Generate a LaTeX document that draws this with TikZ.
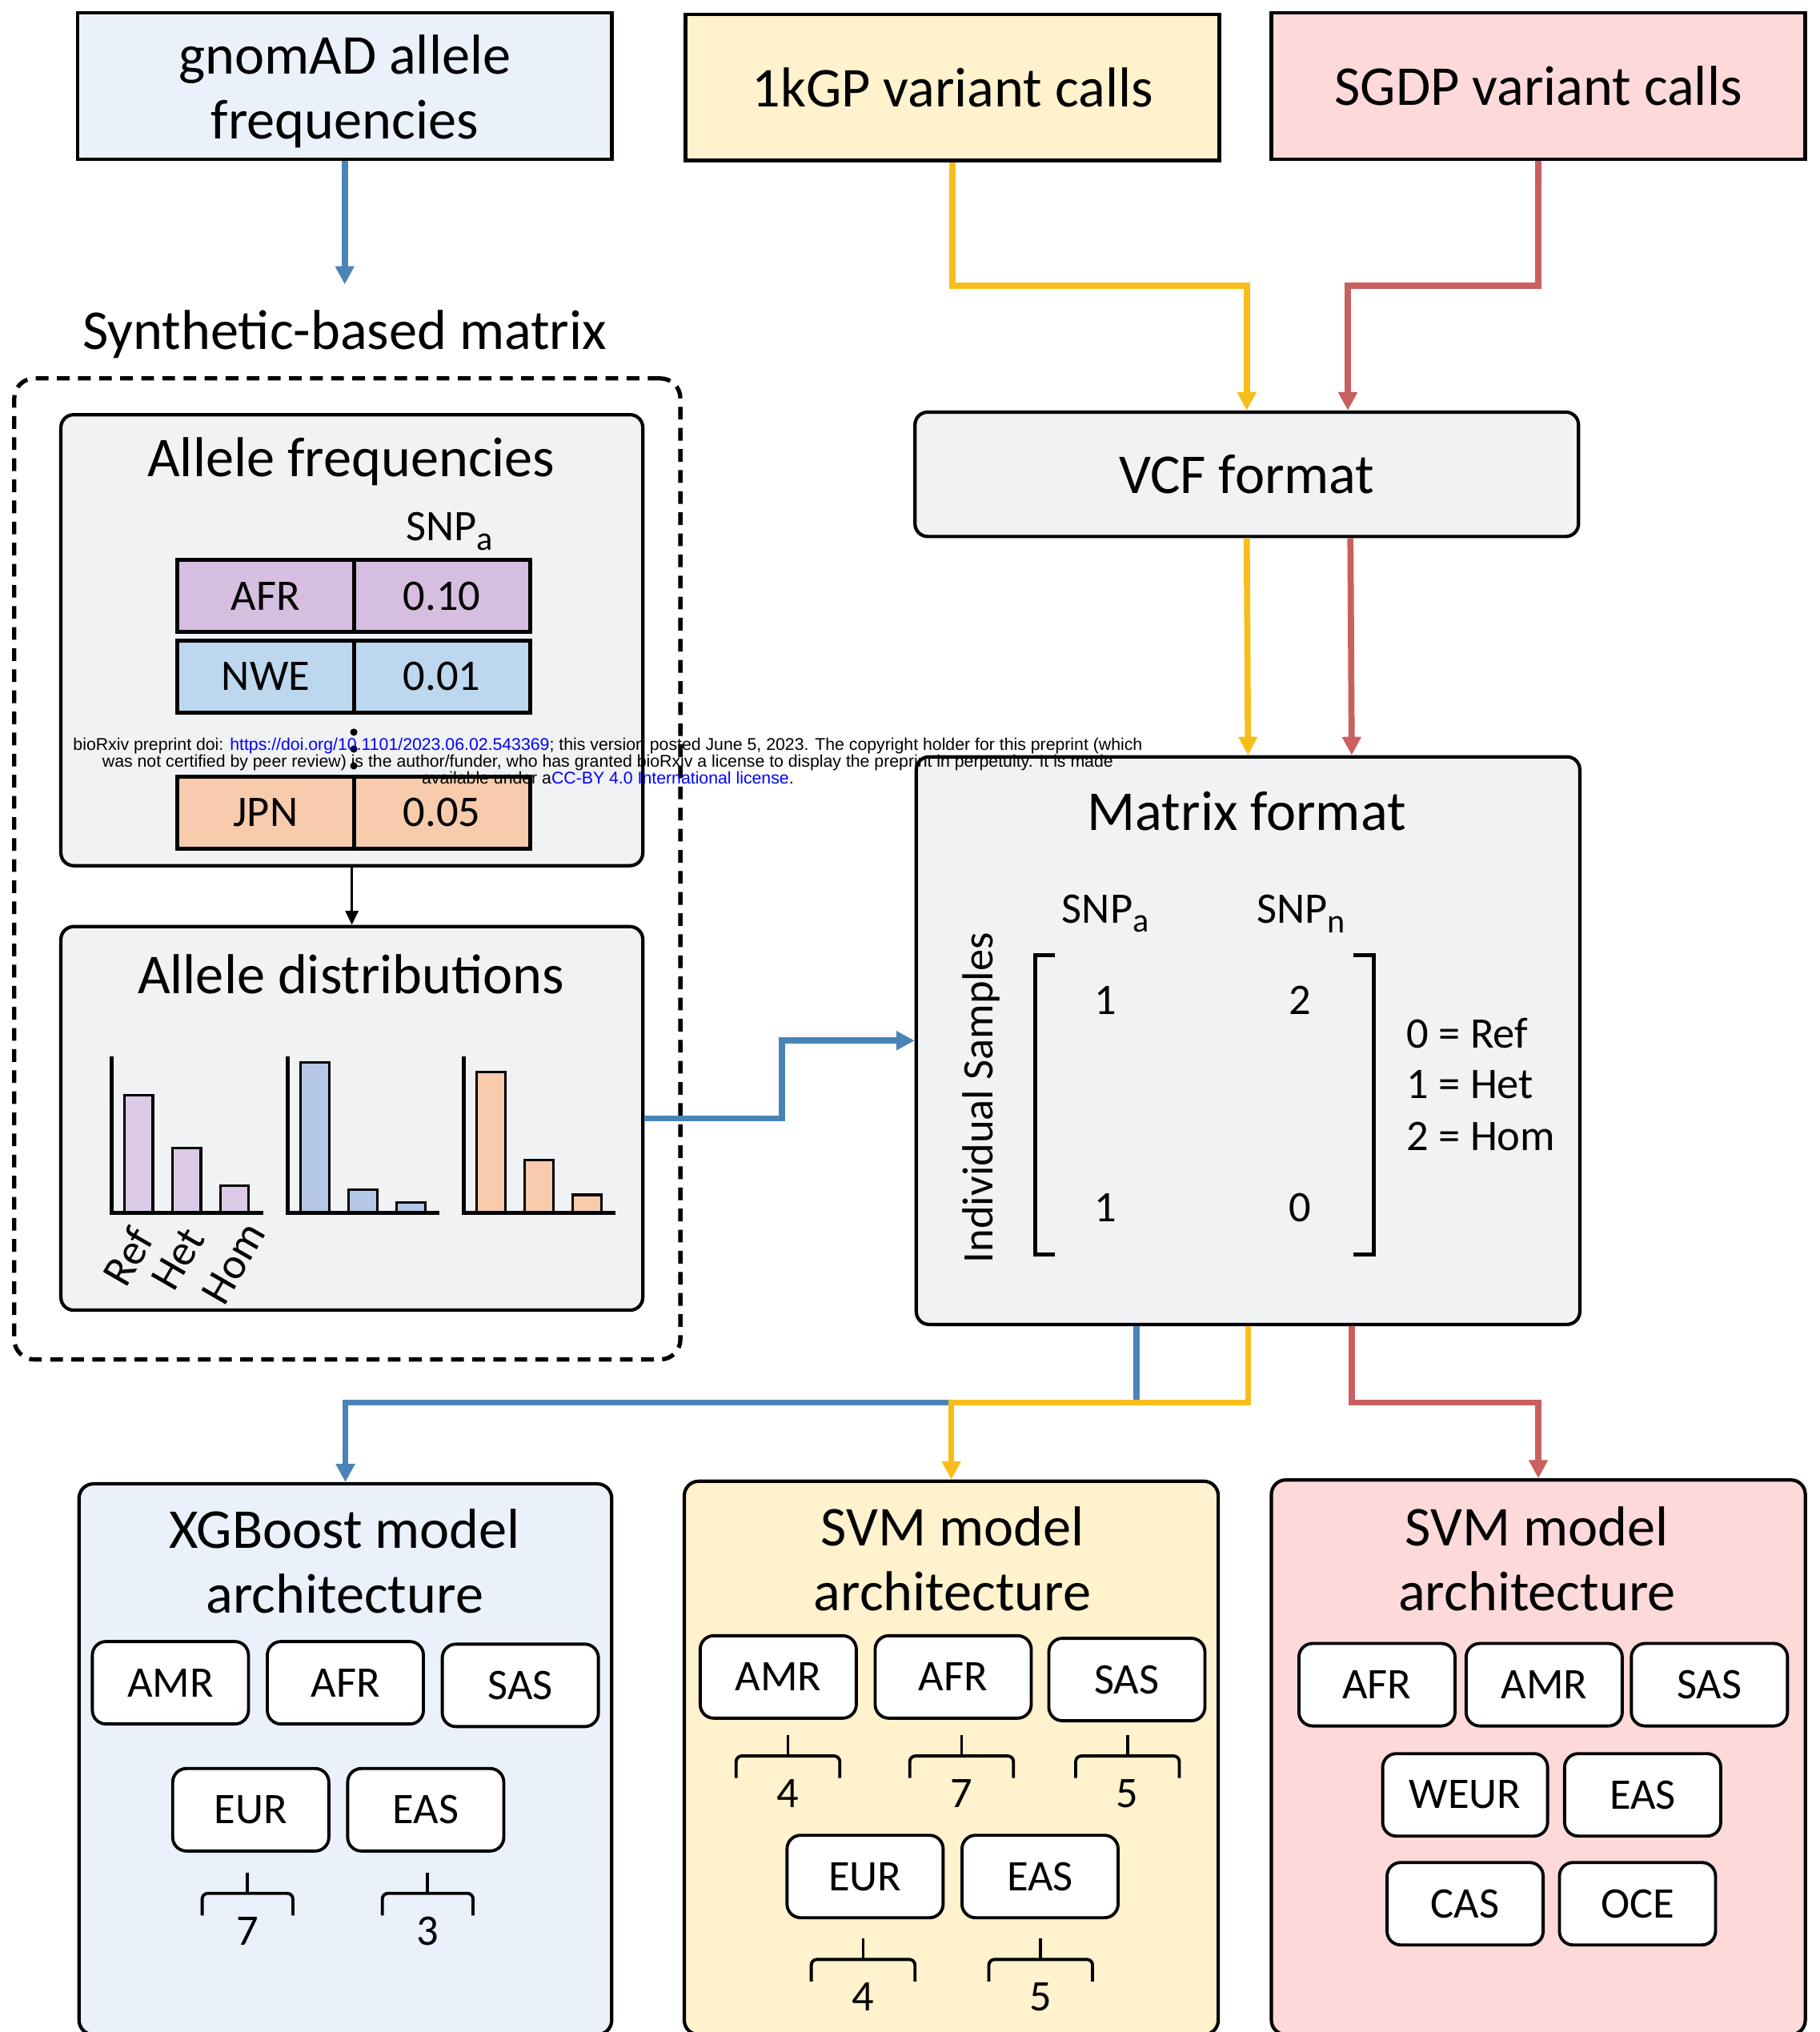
\documentclass[tikz,border=0pt]{standalone}
\usepackage{fontspec}
\setmainfont{Carlito}
\newfontfamily\wmfont{Liberation Sans}
\usetikzlibrary{arrows.meta, calc, fit}
\definecolor{paleblue}{HTML}{EAF1FB}
\definecolor{paleyellow}{HTML}{FFF2CC}
\definecolor{palepink}{HTML}{FDD9D9}
\definecolor{panelgray}{HTML}{F1F2F4}
\definecolor{lnblue}{HTML}{4A84B6}
\definecolor{lnyellow}{HTML}{F7BE1B}
\definecolor{lnred}{HTML}{C95F5F}
\definecolor{afrpurple}{HTML}{D5BEDF}
\definecolor{nweblue}{HTML}{BDD7EE}
\definecolor{jpnpeach}{HTML}{F7CBAC}
\definecolor{barpurple}{HTML}{DCCAE6}
\definecolor{barblue}{HTML}{B4C7E7}
\definecolor{barpeach}{HTML}{F8CBAD}
\definecolor{linkblue}{HTML}{0000FF}

\begin{document}
\begin{tikzpicture}[x=0.1619mm, y=-0.1619mm,
  title/.style={font=\fontsize{20}{23}\selectfont, align=center, inner sep=0pt},
  small/.style={font=\fontsize{15.5}{18}\selectfont, inner sep=0pt},
  srcbox/.style={draw=black, line width=1.3pt, inner sep=0pt},
  panel/.style={draw=black, line width=1.2pt, fill=panelgray, rounded corners=0.16cm, inner sep=0pt},
  modelbox/.style={draw=black, line width=1.2pt, rounded corners=0.18cm, inner sep=0pt},
  popbox/.style={draw=black, line width=1.1pt, fill=white, rounded corners=0.17cm,
    minimum width=1.95cm, minimum height=1.03cm, small},
  cell/.style={draw=black, line width=1.4pt, minimum width=2.2cm, minimum height=0.9cm, small},
  flow/.style={line width=2.2pt, -{Triangle[length=6.5pt, width=6.5pt]}},
  bar/.style={draw=black, line width=0.9pt},
  axis/.style={line width=1.5pt},
  brace/.style={line width=1.1pt, rounded corners=2pt}
]
\useasboundingbox (0,0) rectangle (1404,1568);

% Sources
\node[srcbox, fill=paleblue, fit={(60,10) (472,123)}] (gnomad) {};
\node[title] (gnomadt) at ($(gnomad.center)+(0,4)$) {gnomAD allele\\frequencies};
\node[srcbox, fill=paleyellow, fit={(529,11) (941,124)}] (kgp) {};
\node[title] (kgpt) at (kgp.center) {1kGP variant calls};
\node[srcbox, fill=palepink, fit={(981,10) (1393,123)}] (sgdp) {};
\node[title] (sgdpt) at (sgdp.center) {SGDP variant calls};

% Synthetic-based matrix
\node[title] (synth) at (266,258) {Synthetic-based matrix};
\draw[flow, lnblue, shorten >=9pt] (gnomad.south) -- (synth.north);
\node[draw, line width=1.5pt, dash pattern=on 4.5pt off 3pt, rounded corners=0.25cm,
  inner sep=0pt, fit={(11,292) (525,1049)}] (synframe) {};

% Allele frequencies
\node[panel, fit={(47,320) (496,668)}] (afreq) {};
\node[title] (afreqt) at (271,356) {Allele frequencies};
\node[small] (snpfreq) at (347,410) {SNP\raisebox{-0.45ex}{\fontsize{12}{12}\selectfont a}};
\node[cell, fill=afrpurple] (afr) at (205,460) {AFR};
\node[cell, fill=afrpurple] (afrv) at (341,460) {0.10};
\node[cell, fill=nweblue] (nwe) at (205,522) {NWE};
\node[cell, fill=nweblue] (nwev) at (341,522) {0.01};
\node[cell, fill=jpnpeach] (jpn) at (205,627) {JPN};
\node[cell, fill=jpnpeach] (jpnv) at (341,627) {0.05};
\foreach \dy in {565,578,591}
  \fill (273,\dy) circle (1.3pt);

% Allele distributions
\node[panel, fit={(47,715) (496,1011)}] (adist) {};
\node[title] (adistt) at (271,752) {Allele distributions};
\draw[line width=1pt, -{Triangle[length=5pt, width=4.5pt]}] (afreq.south) -- (adist.north);
\foreach \cx/\ha/\hb/\hc/\col in {86/845/886/915/barpurple, 222/820/918/928/barblue, 358/827/895/922/barpeach} {
  \draw[bar, fill=\col] (\cx+10,\ha) rectangle (\cx+32,936);
  \draw[bar, fill=\col] (\cx+47,\hb) rectangle (\cx+69,936);
  \draw[bar, fill=\col] (\cx+84,\hc) rectangle (\cx+106,936);
  \draw[axis] (\cx,815) -- (\cx,936) -- (\cx+117,936);
}
\node[small, rotate=60, anchor=east] (lref) at (110,950) {Ref};
\node[small, rotate=60, anchor=east] (lhet) at (150,950) {Het};
\node[small, rotate=60, anchor=east] (lhom) at (197,946) {Hom};

% VCF and matrix format
\node[panel, fit={(706,318) (1218,414)}] (vcf) {};
\node[title] (vcft) at (vcf.center) {VCF format};
\node[panel, fit={(707,584) (1219,1022)}] (mat) {};
\node[title] (matt) at (962,626) {Matrix format};
\node[small] (snpa) at (853,705) {SNP\raisebox{-0.45ex}{\fontsize{12}{12}\selectfont a}};
\node[small] (snpn) at (1004,705) {SNP\raisebox{-0.45ex}{\fontsize{12}{12}\selectfont n}};
\draw[line width=1.5pt] (814,737) -- (799,737) -- (799,968) -- (814,968);
\draw[line width=1.5pt] (1044,737) -- (1060,737) -- (1060,968) -- (1044,968);
\node[small] (m11) at (853,772) {1};
\node[small] (m12) at (1003,772) {2};
\node[small] (m21) at (853,932) {1};
\node[small] (m22) at (1003,932) {0};
\node[small, anchor=west] (lgref) at (1085,797) {0 = Ref};
\node[small, anchor=west] (lghet) at (1085,837) {1 = Het};
\node[small, anchor=west] (lghom) at (1085,877) {2 = Hom};
\node[small, rotate=90] (indiv) at (757,847) {Individual Samples};

% Flows into VCF / matrix
\draw[flow, lnyellow] (kgp.south) -- ++(0,95) -| (vcf.north);
\draw[flow, lnred] (sgdp.south) -- ++(0,96) -| ($(vcf.north)+(78,0)$);
\draw[flow, lnyellow] (vcf.south) -- (mat.north);
\draw[flow, lnred] ($(vcf.south)+(80,0)$) -- ($(mat.north)+(80,0)$);
\draw[flow, lnblue] (adist.east) -- ++(106,0) |- (mat.west);

% Model boxes
\node[modelbox, fill=paleblue, fit={(61,1145) (472,1570)}] (xgb) {};
\node[title] (xgbt) at (266,1205) {XGBoost model\\architecture};
\node[modelbox, fill=paleyellow, fit={(528,1143) (940,1570)}] (svmy) {};
\node[title] (svmyt) at (735,1203) {SVM model\\architecture};
\node[modelbox, fill=palepink, fit={(981,1142) (1393,1570)}] (svmr) {};
\node[title] (svmrt) at (1186,1203) {SVM model\\architecture};

% Flows out of matrix
\draw[flow, lnblue] ($(mat.south)+(-86,0)$) -- ++(0,59) -| (xgb.north);
\draw[flow, lnyellow] (mat.south) -- ++(0,59) -| (svmy.north);
\draw[flow, lnred] ($(mat.south)+(80,0)$) -- ++(0,59) -| (svmr.north);

% XGBoost populations
\node[popbox] (xamr) at (131.5,1298.5) {AMR};
\node[popbox] (xafr) at (266.5,1298.5) {AFR};
\node[popbox] (xsas) at (401.5,1300.5) {SAS};
\node[popbox] (xeur) at (193.5,1396.5) {EUR};
\node[popbox] (xeas) at (328.5,1396.5) {EAS};

% SVM (1kGP) populations
\node[popbox] (yamr) at (600.5,1294) {AMR};
\node[popbox] (yafr) at (735.5,1294) {AFR};
\node[popbox] (ysas) at (869.5,1296) {SAS};
\node[popbox] (yeur) at (667.5,1448) {EUR};
\node[popbox] (yeas) at (802.5,1448) {EAS};

% SVM (SGDP) populations
\node[popbox] (rafr) at (1062.5,1300) {AFR};
\node[popbox] (ramr) at (1191.5,1300) {AMR};
\node[popbox] (rsas) at (1319,1300) {SAS};
\node[popbox, minimum width=2.06cm] (rweur) at (1130.5,1385) {WEUR};
\node[popbox] (reas) at (1267.5,1385) {EAS};
\node[popbox] (rcas) at (1130.5,1469) {CAS};
\node[popbox] (roce) at (1263.5,1469) {OCE};

% Braces with counts
\foreach \bx/\by/\bw/\bn in {191/1445/35/7, 330/1445/35/3, 608/1339/40/4, 742/1339/40/7,
    870/1339/40/5, 666/1496/40/4, 803/1496/40/5} {
  \draw[brace] (\bx-\bw,\by+33) -- (\bx-\bw,\by+16) -- (\bx+\bw,\by+16) -- (\bx+\bw,\by+33);
  \draw[brace] (\bx,\by) -- (\bx,\by+16);
  \node[small] (n\bx) at (\bx,\by+45) {\bn};
}

% Preprint stamp
\node[font=\wmfont\fontsize{6.05}{6}\selectfont, align=center, inner sep=0pt] (stamp) at (469,587)
  {bioRxiv preprint doi: \textcolor{linkblue}{https://doi.org/10.1101/2023.06.02.543369}; this version posted June 5, 2023. The copyright holder for this preprint (which\\
   was not certified by peer review) is the author/funder, who has granted bioRxiv a license to display the preprint in perpetuity. It is made\\
   available under a\textcolor{linkblue}{CC-BY 4.0 International license}.};

\end{tikzpicture}
\end{document}
